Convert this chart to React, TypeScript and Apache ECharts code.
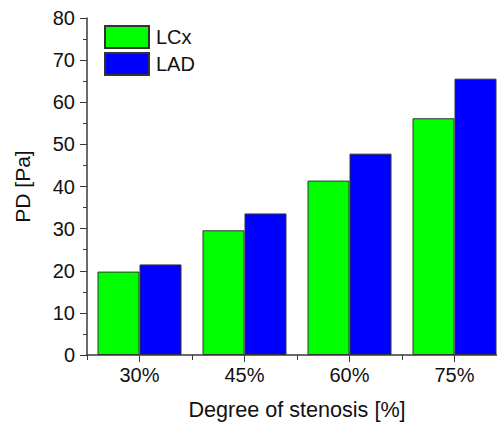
import React, { useEffect, useRef } from "react";
import * as echarts from "echarts";

const categories = ["30%", "45%", "60%", "75%"];
const lcxValues = [19.8, 29.6, 41.4, 56.2];
const ladValues = [21.5, 33.6, 47.8, 65.6];
const seriesNames = ["LCx", "LAD"];

export default function App() {
  const ref = useRef<HTMLDivElement>(null);
  useEffect(() => {
    const chart = echarts.init(ref.current!, null, { renderer: "svg" });
    const font = "'Liberation Sans', Arial, sans-serif";
    const axisColor = "#3a3a3a";
    chart.setOption({
      animation: false,
      textStyle: { fontFamily: font },
      grid: { left: 87, top: 18, bottom: 67, right: 3 },
      legend: {
        orient: "vertical",
        left: 104,
        top: 25,
        padding: 0,
        itemWidth: 44,
        itemHeight: 22,
        itemGap: 3,
        icon: "rect",
        data: seriesNames,
        textStyle: { fontSize: 20, color: "#111", fontFamily: font, padding: [0, 0, 0, 2] },
      },
      xAxis: [
        {
          type: "category",
          data: categories,
          name: "Degree of stenosis [%]",
          nameLocation: "middle",
          nameGap: 43,
          nameTextStyle: { fontSize: 21.6, color: "#111", fontFamily: font },
          axisLine: { show: true, lineStyle: { color: axisColor, width: 1.5 } },
          axisTick: { show: true, length: 5, lineStyle: { color: axisColor } },
          axisLabel: { fontSize: 20, color: "#111", margin: 10, fontFamily: font },
          splitLine: { show: false },
        },
        {
          type: "category",
          data: categories,
          position: "bottom",
          axisLine: { show: false },
          axisTick: { show: true, alignWithLabel: true, length: 7, lineStyle: { color: axisColor } },
          axisLabel: { show: false },
          splitLine: { show: false },
        },
      ],
      yAxis: {
        type: "value",
        min: 0,
        max: 80,
        interval: 10,
        name: "PD [Pa]",
        nameLocation: "middle",
        nameGap: 54,
        nameTextStyle: { fontSize: 21, color: "#111", fontFamily: font },
        axisLine: { show: true, lineStyle: { color: axisColor, width: 1.5 } },
        axisTick: { show: true, length: 7, lineStyle: { color: axisColor } },
        minorTick: { show: true, splitNumber: 2, length: 4, lineStyle: { color: axisColor } },
        axisLabel: { fontSize: 20, color: "#111", margin: 12, fontFamily: font },
        splitLine: { show: false },
      },
      series: [
        {
          name: seriesNames[0],
          type: "bar",
          data: lcxValues,
          barWidth: 42,
          barGap: "0%",
          itemStyle: { color: "#00ff00", borderColor: "#333", borderWidth: 1 },
        },
        {
          name: seriesNames[1],
          type: "bar",
          data: ladValues,
          barWidth: 42,
          barGap: "0%",
          itemStyle: { color: "#0000ff", borderColor: "#333", borderWidth: 1 },
        },
      ],
    });
    return () => chart.dispose();
  }, []);
  return (
    <div style={{ position: "fixed", left: 0, top: 0, width: 497, height: 425, overflow: "hidden", background: "#fff" }}>
      <div ref={ref} style={{ width: 510, height: 425 }} />
    </div>
  );
}
